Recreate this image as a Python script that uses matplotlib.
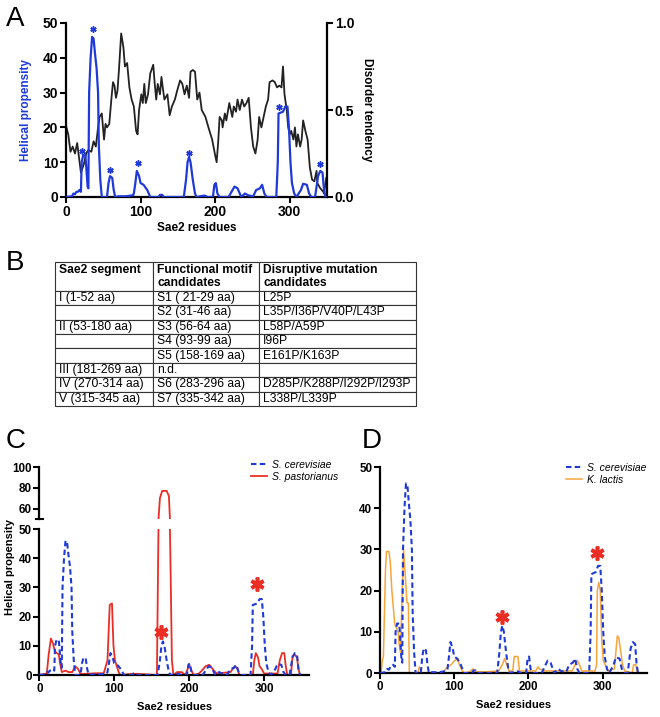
import matplotlib
matplotlib.use("Agg")
import matplotlib.pyplot as plt

plt.rcParams['font.family'] = ['Liberation Sans', 'DejaVu Sans']

# S. cerevisiae helical propensity (same curve in A, C, D)
sc_x = [0, 8, 10, 12, 14, 16, 18, 20, 21, 23, 26, 28, 29, 30, 31, 32, 33, 35, 37, 39, 41, 43, 44, 46, 48,
        55, 57, 59, 62, 64, 66, 70, 80, 90, 91, 93, 95, 98, 100, 104, 109, 113, 124, 126, 129, 131,
        158, 161, 163, 165, 167, 170, 173, 175, 182, 186, 190, 197, 199, 201, 203, 206,
        218, 222, 226, 230, 233, 235, 240, 244, 251, 255, 260, 263, 266, 269,
        282, 284, 285, 291, 294, 297, 299, 301, 303, 306, 309, 315, 318, 323, 326, 329,
        334, 338, 341, 344, 346, 348]
sc_y = [0, 0.2, 1, 0.8, 1.5, 1.5, 2, 1.5, 10, 12, 12, 6, 3, 2.5, 30, 35, 40, 46, 45.5, 41, 37, 30, 15, 5, 0,
        0, 4, 6, 5.5, 2, 0, 0.2, 0.2, 0.5, 1, 4, 7.5, 6, 4, 3.5, 2, 0, 0, 0.6, 0.6, 0,
        0, 5, 10, 11.5, 10, 5, 1, 0, 0.3, 0.4, 0, 0, 3.5, 4, 1, 0,
        0, 1.5, 3, 2.5, 1, 0, 1, 0.5, 0.2, 2, 2.5, 3.5, 1, 0,
        0, 10, 24, 24.5, 26, 26, 20, 10, 4, 1, 0, 2, 3.8, 3.5, 1, 0,
        0, 6, 7.5, 7, 2, 0]

# disorder tendency (panel A, right axis)
dis_x = [0, 3, 6, 9, 12, 15, 18, 20, 24, 27, 30, 34, 37, 40, 43, 45, 48, 51, 53, 55, 58, 61, 63, 65, 67, 69,
         71, 74, 77, 79, 82, 85, 88, 91, 94, 96, 98, 101, 103, 105, 107, 110, 113, 117, 119, 121, 123, 126,
         128, 130, 132, 136, 139, 142, 146, 149, 153, 156, 159, 162, 165, 167, 170, 173, 176, 179, 182, 187,
         191, 196, 200, 202, 204, 206, 209, 210, 213, 215, 219, 221, 223, 225, 228, 230, 233, 236, 239, 242,
         245, 248, 251, 254, 257, 259, 262, 264, 268, 271, 273, 277, 280, 283, 286, 289, 291, 293, 296, 298,
         300, 302, 305, 307, 309, 311, 314, 316, 318, 321, 324, 327, 330, 333, 336, 337, 341, 345, 346, 349]
dis_y = [0.41, 0.36, 0.26, 0.29, 0.25, 0.31, 0.21, 0.14, 0.19, 0.25, 0.27, 0.26, 0.32, 0.29, 0.40, 0.46,
         0.48, 0.33, 0.42, 0.40, 0.42, 0.57, 0.66, 0.64, 0.57, 0.61, 0.73, 0.94, 0.86, 0.75, 0.77, 0.63,
         0.56, 0.52, 0.38, 0.36, 0.50, 0.59, 0.54, 0.65, 0.54, 0.59, 0.71, 0.76, 0.65, 0.56, 0.65, 0.59,
         0.69, 0.62, 0.56, 0.59, 0.47, 0.52, 0.56, 0.61, 0.67, 0.65, 0.59, 0.64, 0.57, 0.72, 0.73, 0.72,
         0.56, 0.60, 0.50, 0.46, 0.40, 0.33, 0.24, 0.20, 0.31, 0.46, 0.44, 0.40, 0.48, 0.44, 0.54, 0.50,
         0.46, 0.52, 0.49, 0.56, 0.50, 0.56, 0.52, 0.54, 0.57, 0.40, 0.29, 0.25, 0.33, 0.46, 0.40, 0.44,
         0.52, 0.56, 0.66, 0.67, 0.66, 0.63, 0.64, 0.63, 0.75, 0.59, 0.50, 0.40, 0.36, 0.38, 0.33, 0.40,
         0.29, 0.36, 0.29, 0.33, 0.44, 0.38, 0.33, 0.17, 0.10, 0.09, 0.15, 0.08, 0.05, 0.03, 0.02, 0.11]

# S. pastorianus (panel C)
sp_x = [0, 10, 12.5, 15.5, 18, 21, 26, 28, 30, 35, 39, 44, 48, 52, 55, 75, 86, 91, 94, 97, 99, 101, 106, 108,
        124, 130, 157, 159, 161, 164, 170, 173, 175, 177, 179, 184, 190, 195, 198, 200, 204, 206,
        213, 217, 222, 227, 233, 237, 255, 261, 265, 267, 285, 287, 289, 292, 294, 297, 300,
        318, 321, 324, 327, 329, 331, 336, 338, 341, 344, 346, 348]
sp_y = [0, 0.5, 7, 12.5, 11, 8, 7, 3.5, 1, 1.5, 1, 1, 3, 2, 0.3, 0.6, 0.6, 5, 24, 24.5, 10, 5, 1, 0,
        0.4, 0.4, 0, 49, 70, 77, 77, 72, 40, 5, 0, 1, 1, 0, 2, 3.5, 1, 0,
        0.5, 1.5, 3, 3.5, 1.5, 0.5, 1, 3, 2, 0, 0, 5, 7.5, 6, 3, 2, 0.5,
        0.5, 5, 7.5, 7.5, 3, 0, 0, 6.5, 7, 6, 2, 0]

# K. lactis (panel D)
kl_x = [0, 1.5, 3, 4.6, 6, 7.4, 8.8, 12, 13.8, 16, 18.4, 19.8, 22, 24.4, 25.8, 27.6, 30, 31.8, 33.6, 36.4,
        38.2, 39.6, 51, 53, 56, 84, 91, 96, 100.5, 105, 107, 111, 114, 121, 125, 130, 144, 160, 165, 168,
        172, 174, 179, 181, 186, 188, 210, 213, 215, 222, 250, 259, 263, 266, 269, 272, 290, 292, 293,
        295, 297, 299, 301, 305, 308, 316, 318, 320, 322, 324, 327, 330, 340, 342, 345, 347]
kl_y = [0, 0, 3, 4, 15, 25, 29.5, 29.5, 27, 20, 15, 12, 11, 10, 7, 5, 20, 30, 25, 17,
        17, 0, 0, 1.5, 0, 0, 1.5, 2, 3, 3.5, 2, 0.5, 0, 0.3, 1, 0.3, 0.3, 0.5, 2, 3.5,
        1.5, 0.5, 0.5, 4, 4, 0.5, 0.5, 1.5, 1, 0.5, 0.5, 0.5, 2, 3, 2, 0.5, 0.5, 2, 20,
        22, 20, 8, 3, 1.5, 0.5, 1, 5, 9, 8.5, 6, 2, 0.5, 0, 2, 2, 0]

# asterisks
a_star_x = [22, 36, 59, 97, 165, 286, 341]
a_star_y = [13.2, 48.3, 7.9, 9.8, 12.7, 26, 9.5]
c_star_x = [163, 290]
c_star_y = [14.8, 31.2]
d_star_x = [165, 292]
d_star_y = [13.7, 29.2]

table_header = ["Sae2 segment\n", "Functional motif\ncandidates", "Disruptive mutation\ncandidates"]
table_rows = [
    ["I (1-52 aa)", "S1 ( 21-29 aa)", "L25P"],
    ["", "S2 (31-46 aa)", "L35P/I36P/V40P/L43P"],
    ["II (53-180 aa)", "S3 (56-64 aa)", "L58P/A59P"],
    ["", "S4 (93-99 aa)", "I96P"],
    ["", "S5 (158-169 aa)", "E161P/K163P"],
    ["III (181-269 aa)", "n.d.", ""],
    ["IV (270-314 aa)", "S6 (283-296 aa)", "D285P/K288P/I292P/I293P"],
    ["V (315-345 aa)", "S7 (335-342 aa)", "L338P/L339P"],
]

BLUE = '#1f3ad8'
RED = '#ea2e25'
ORANGE = '#f6a53a'
W, H = 660, 717


def box(l, t, r, b):
    return [l / W, 1 - b / H, (r - l) / W, (b - t) / H]


def style(ax, fs, spines=('left', 'bottom')):
    for s in ['left', 'right', 'top', 'bottom']:
        ax.spines[s].set_visible(s in spines)
        ax.spines[s].set_linewidth(1.6)
    ax.tick_params(direction='out', length=4, width=1.5, labelsize=fs, pad=1.5)
    for lab in ax.get_xticklabels() + ax.get_yticklabels():
        lab.set_fontweight('bold')


fig = plt.figure(figsize=(6.6, 7.17), dpi=100)

# ---------------- A ----------------
axA = fig.add_axes(box(66, 23, 327, 197))
axA.plot(sc_x, sc_y, color=BLUE, lw=1.6, zorder=3)
axA.plot(a_star_x, a_star_y, ls='none', marker=(6, 2, 0), ms=4.5, mew=1.1, color=BLUE, zorder=4)
axA.set_xlim(0, 350)
axA.set_ylim(0, 50)
axA.set_xticks([0, 100, 200, 300])
axA.set_yticks([0, 10, 20, 30, 40, 50])
axA2 = axA.twinx()
axA2.plot(dis_x, dis_y, color='#222222', lw=1.3, zorder=2)
axA2.set_ylim(0, 1)
axA2.set_yticks([0, 0.5, 1.0])
axA2.set_yticklabels(['0.0', '0.5', '1.0'])
axA.set_zorder(axA2.get_zorder() + 1)
axA.patch.set_visible(False)
style(axA, 10)
style(axA2, 10, spines=('right',))
axA.set_xlabel('Sae2 residues', fontsize=8.5, fontweight='bold')
axA.xaxis.set_label_coords(0.5, -0.145)
axA.set_ylabel('Helical propensity', fontsize=8.5, fontweight='bold', color=BLUE)
axA.yaxis.set_label_coords(-0.13, 0.5)
axA2.set_ylabel('Disorder tendency', fontsize=8.5, fontweight='bold', rotation=270, va='center')
axA2.yaxis.set_label_coords(1.155, 0.5)

# ---------------- B (table) ----------------
axB = fig.add_axes(box(55, 262, 416, 406))
axB.axis('off')
col_px = [98, 106, 157]
tb = axB.table(cellText=table_rows, colLabels=table_header,
               colWidths=[c / sum(col_px) for c in col_px],
               cellLoc='left', colLoc='left', bbox=[0, 0, 1, 1])
tb.auto_set_font_size(False)
tb.set_fontsize(8.7)
for (r, c), cell in tb.get_celld().items():
    cell.set_linewidth(0.8)
    cell.set_edgecolor('#333333')
    cell.PAD = 4 / col_px[c]
    cell.set_height(2.0 if r == 0 else 1.0)
    if r == 0:
        cell.get_text().set_fontweight('bold')
        cell.get_text().set_linespacing(1.05)

# ---------------- C ----------------
axC = fig.add_axes(box(39.3, 529, 309, 675))
axCt = fig.add_axes(box(39.3, 467, 309, 519))
for ax in (axC, axCt):
    ax.plot(sc_x, sc_y, color=BLUE, lw=1.5, ls=(0, (2.6, 1.6)), label='S. cerevisiae', zorder=3)
    ax.plot(sp_x, sp_y, color=RED, lw=1.3, label='S. pastorianus', zorder=2)
    ax.set_xlim(0, 360)
axC.plot(c_star_x, c_star_y, ls='none', marker=(6, 2, 0), ms=10, mew=2.6, color=RED, zorder=5)
axC.set_ylim(0, 50)
axC.set_yticks([0, 10, 20, 30, 40, 50])
axC.set_xticks([0, 100, 200, 300])
axCt.set_ylim(50, 100)
axCt.set_yticks([60, 80, 100])
axCt.set_xticks([])
style(axC, 8.4)
style(axCt, 8.4, spines=('left',))
axCt.plot([-0.012, 0.012], [0, 0], transform=axCt.transAxes, color='k', lw=1.5, clip_on=False)
axC.set_xlabel('Sae2 residues', fontsize=8, fontweight='bold')
axC.xaxis.set_label_coords(0.5, -0.185)
fig.text(10 / W, 1 - 567 / H, 'Helical propensity', rotation=90, fontsize=8, fontweight='bold',
         ha='center', va='center')
axCt.legend(loc='upper left', bbox_to_anchor=(251 / W, 1 - 460 / H), bbox_transform=fig.transFigure,
            frameon=False, prop={'style': 'italic', 'size': 7.5}, handlelength=1.5,
            handletextpad=0.5, labelspacing=0.15, borderpad=0, borderaxespad=0)

# ---------------- D ----------------
axD = fig.add_axes(box(380, 467, 647, 673))
axD.plot(sc_x, sc_y, color=BLUE, lw=1.5, ls=(0, (2.6, 1.6)), label='S. cerevisiae', zorder=3)
axD.plot(kl_x, kl_y, color=ORANGE, lw=1.1, label='K. lactis', zorder=2)
axD.plot(d_star_x, d_star_y, ls='none', marker=(6, 2, 0), ms=10, mew=2.6, color=RED, zorder=5)
axD.set_xlim(0, 360)
axD.set_ylim(0, 50)
axD.set_xticks([0, 100, 200, 300])
axD.set_yticks([0, 10, 20, 30, 40, 50])
style(axD, 8.4)
axD.set_xlabel('Sae2 residues', fontsize=8, fontweight='bold')
axD.xaxis.set_label_coords(0.5, -0.13)
axD.legend(loc='upper left', bbox_to_anchor=(566 / W, 1 - 463 / H), bbox_transform=fig.transFigure,
           frameon=False, prop={'style': 'italic', 'size': 7.5}, handlelength=1.5,
           handletextpad=0.5, labelspacing=0.15, borderpad=0, borderaxespad=0)

# panel letters
for letter, px, py in [('A', 15, 19), ('B', 15, 263), ('C', 16, 441), ('D', 372, 441)]:
    fig.text(px / W, 1 - py / H, letter, fontsize=20, ha='center', va='center')

fig.savefig('out.png', dpi=100)
